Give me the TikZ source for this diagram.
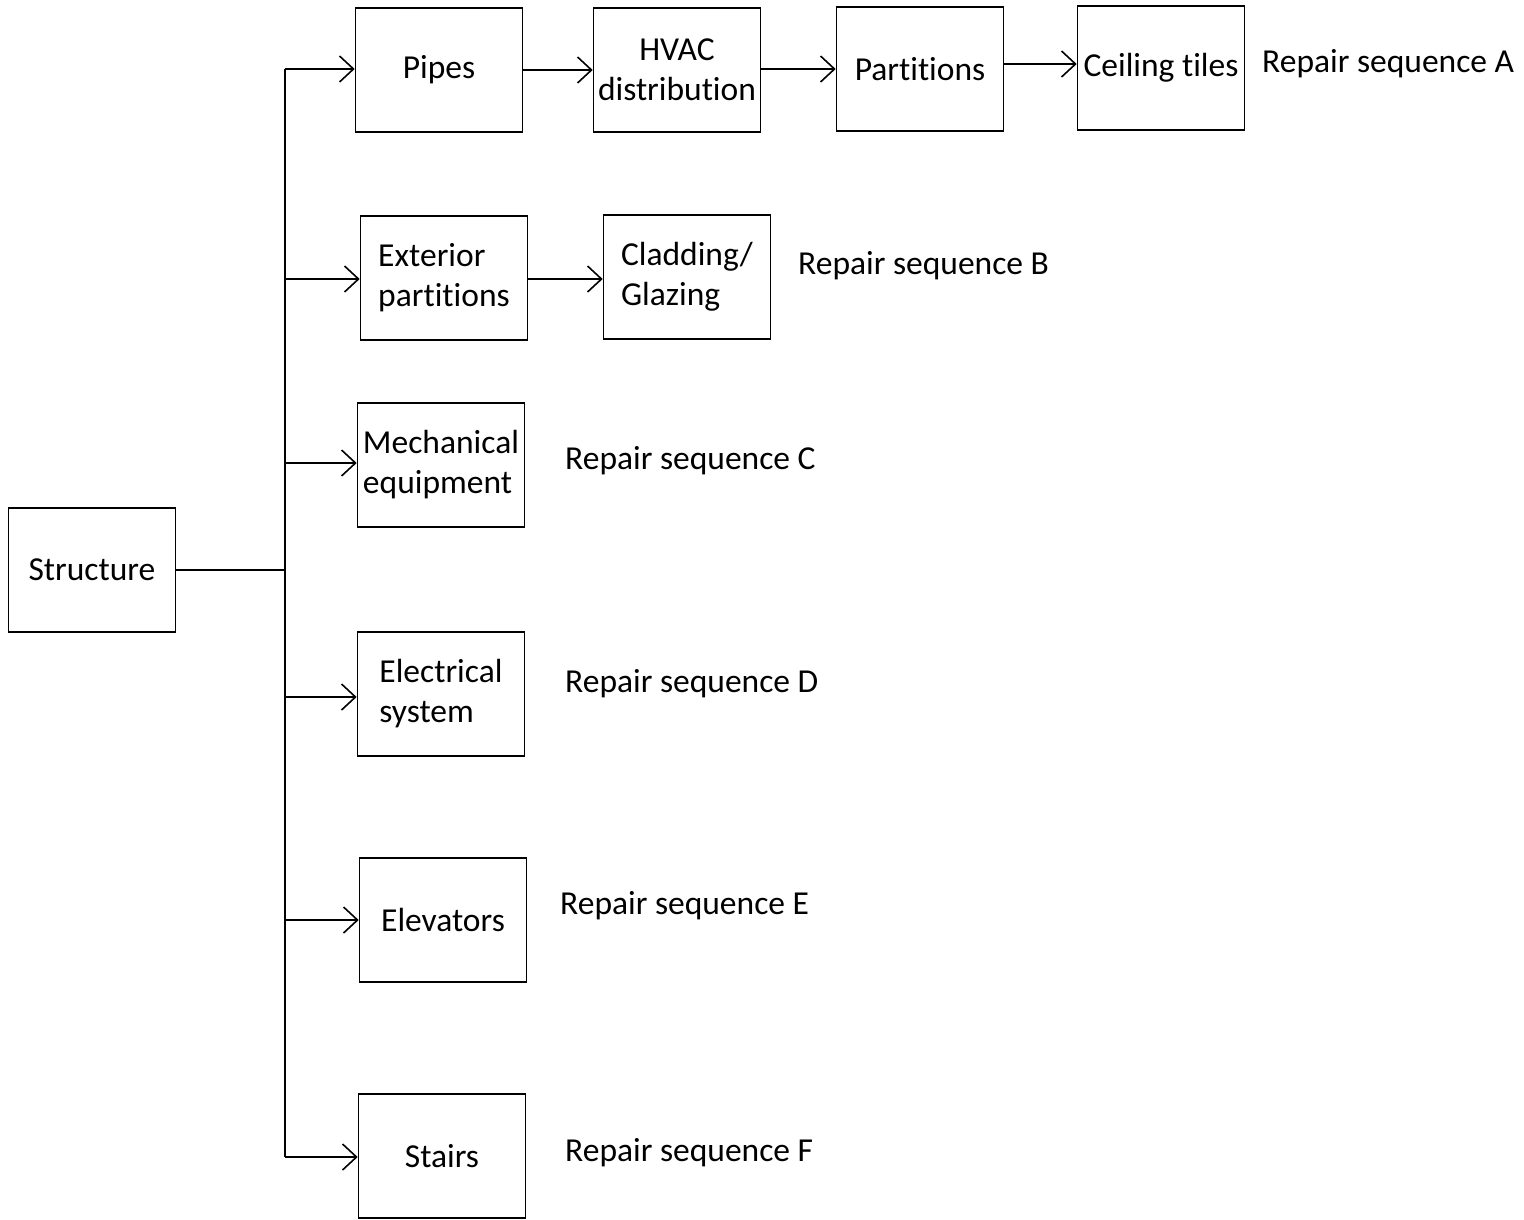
\documentclass[tikz,border=0pt]{standalone}
\usepackage{fontspec}
\setmainfont[Ligatures=NoCommon]{Carlito}
\usetikzlibrary{arrows.meta, positioning}
\tikzstyle{part} = [rectangle, minimum width=167pt, minimum height=124pt, inner sep=1pt, draw=black, line width=1.6pt, fill=white, font=\fontsize{33.5}{40}\selectfont]
\tikzstyle{seqlabel} = [anchor=west, inner sep=0pt, font=\fontsize{33.5}{40}\selectfont]
\tikzstyle{link} = [line width=1.6pt, -{Straight Barb[length=14pt,width=26pt,line width=1.6pt]}]

\begin{document}
\begin{tikzpicture}[x=1pt, y=-1pt]
\useasboundingbox (0,0) rectangle (1524,1219);
\node (struct) [part] at (92,570) {Structure};
% sequence A
\node (pipes) [part] at (439,70) {Pipes};
\node (hvac) [part, align=center] at (677,70) {HVAC\\distribution};
\node (parts) [part] at (920,69) {Partitions};
\node (ceil) [part] at (1161,68) {Ceiling tiles};
\node (seqA) [seqlabel] at (1262,64) {Repair sequence A};
% sequence B
\node (ext) [part, align=left] at (444,278) {Exterior\\partitions};
\node (clad) [part, align=left] at (687,277) {Cladding/\\Glazing};
\node (seqB) [seqlabel] at (798,266) {Repair sequence B};
% sequences C to F
\node (mech) [part, align=left] at (441,465) {Mechanical\\equipment};
\node (seqC) [seqlabel] at (565,461) {Repair sequence C};
\node (elec) [part, align=left] at (441,694) {Electrical\\system};
\node (seqD) [seqlabel] at (565,684) {Repair sequence D};
\node (elev) [part] at (443,920) {Elevators};
\node (seqE) [seqlabel] at (560,906) {Repair sequence E};
\node (stairs) [part] at (442,1156) {Stairs};
\node (seqF) [seqlabel] at (565,1153) {Repair sequence F};
% trunk
\coordinate (jn) at (285,570);
\draw[line width=1.6pt] (struct.east) -- (jn);
\draw[line width=1.6pt] (285,69) -- (285,1157);
\draw[link] (285,69) -- (pipes.west |- 0,69);
\draw[link] (285,279) -- (ext.west |- 0,279);
\draw[link] (285,463) -- (mech.west |- 0,463);
\draw[link] (285,697) -- (elec.west |- 0,697);
\draw[link] (285,920) -- (elev.west |- 0,920);
\draw[link] (285,1157) -- (stairs.west |- 0,1157);
% chains
\draw[link] (pipes.east |- 0,70) -- (hvac.west |- 0,70);
\draw[link] (hvac.east |- 0,69) -- (parts.west |- 0,69);
\draw[link] (parts.east |- 0,64) -- (ceil.west |- 0,64);
\draw[link] (ext.east |- 0,279) -- (clad.west |- 0,279);
\end{tikzpicture}
\end{document}
